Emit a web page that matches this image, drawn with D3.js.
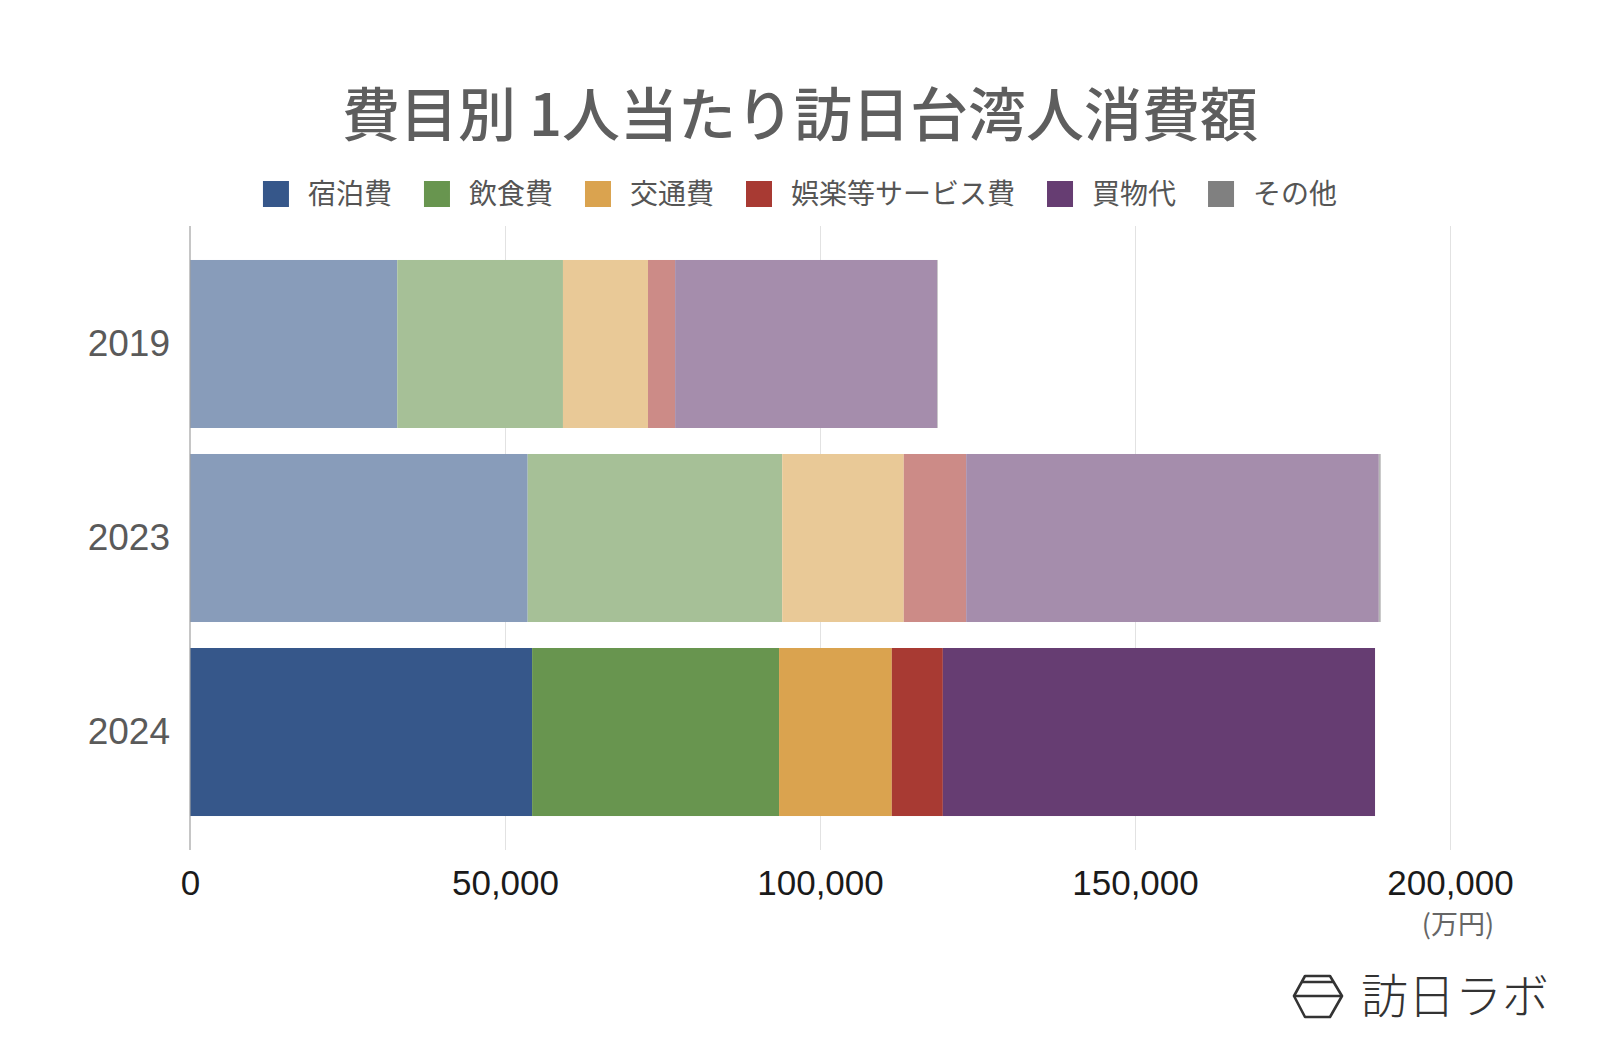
<!DOCTYPE html>
<html>
<head>
<meta charset="utf-8">
<script src="https://cdn.jsdelivr.net/npm/d3@7"></script>
<style>
  html, body { margin: 0; padding: 0; background: #fff; }
  #chart { width: 1600px; height: 1048px; }
</style>
</head>
<body>
<div id="chart"></div>
<script>
const width = 1600;
const height = 1048;

const years = ["2019", "2023", "2024"];
const categories = ["宿泊費", "飲食費", "交通費", "娯楽等サービス費", "買物代", "その他"];

// 1人当たり支出 (円) per year
const lodging = [32900, 53600, 54300];
const food = [26300, 40400, 39200];
const transport = [13500, 19300, 17900];
const entertainment = [4300, 9900, 8100];
const shopping = [41600, 65500, 68600];
const other = [100, 300, 0];

const xTicks = [0, 50000, 100000, 150000, 200000];

const categoryColors = ["#36578a", "#68954f", "#daa34f", "#a83a33", "#663d72", "#808080"];
const highlightYear = "2024";
const FADE = 0.59;

const LABEL_FONT = "'Liberation Sans', Arial, sans-serif";
const JP_FONT = "'Noto Sans CJK JP', 'Noto Sans', sans-serif";

const plotTop = 226;
const plotBottom = 850;

const seriesValues = [lodging, food, transport, entertainment, shopping, other];
const rows = years.map((year, i) => {
  const row = { year };
  categories.forEach((c, j) => { row[c] = seriesValues[j][i]; });
  return row;
});

const stacked = d3.stack().keys(categories)(rows);

const svg = d3
  .select("#chart")
  .append("svg")
  .attr("width", width)
  .attr("height", height)
  .attr("viewBox", `0 0 ${width} ${height}`);

const x = d3.scaleLinear().domain([0, 200000]).range([190, 1450]);

const y = d3
  .scaleBand()
  .domain(years)
  .range([plotTop + 1, plotBottom - 1])
  .paddingInner(0.134)
  .paddingOuter(0.17);

const color = d3.scaleOrdinal().domain(categories).range(categoryColors);

// faded colours are solid (gridlines must not show through)
function barColor(key, year) {
  return year === highlightYear ? color(key) : d3.interpolateRgb("#ffffff", color(key))(FADE);
}

// title
svg.append("text")
  .attr("x", width / 2)
  .attr("y", 136)
  .attr("text-anchor", "middle")
  .attr("font-family", JP_FONT)
  .attr("font-size", 58)
  .attr("font-weight", 500)
  .attr("fill", "#5e5e5e")
  .text("費目別 1人当たり訪日台湾人消費額");

// legend
const legendItems = svg.append("g")
  .selectAll("g")
  .data(categories)
  .join("g");

legendItems.append("rect")
  .attr("width", 26)
  .attr("height", 26)
  .attr("y", 181)
  .attr("fill", d => color(d));

legendItems.append("text")
  .attr("x", 45)
  .attr("y", 204)
  .attr("font-family", JP_FONT)
  .attr("font-size", 28)
  .attr("fill", "#555")
  .text(d => d);

let cursor = 0;
const offsets = [];
legendItems.each(function() {
  const w = 45 + d3.select(this).select("text").node().getComputedTextLength();
  offsets.push(cursor);
  cursor += w + 32;
});
const legendWidth = cursor - 32;
legendItems.attr("transform", (d, i) => `translate(${width / 2 - legendWidth / 2 + offsets[i]},0)`);

// gridlines
svg.append("g")
  .attr("transform", `translate(0,${plotBottom})`)
  .call(d3.axisBottom(x).tickValues(xTicks.slice(1)).tickSize(-(plotBottom - plotTop)).tickFormat(""))
  .call(g => g.select(".domain").remove())
  .call(g => g.selectAll(".tick line").attr("stroke", "#e2e2e2").attr("stroke-width", 1));

// bars
svg.append("g")
  .selectAll("g")
  .data(stacked)
  .join("g")
  .selectAll("rect")
  .data(d => d.map(v => Object.assign(v, { key: d.key })))
  .join("rect")
  .attr("x", d => x(d[0]))
  .attr("y", d => y(d.data.year))
  .attr("width", d => Math.max(0, x(d[1]) - x(d[0])))
  .attr("height", y.bandwidth())
  .attr("fill", d => barColor(d.key, d.data.year));

// y axis line
svg.append("line")
  .attr("x1", x(0))
  .attr("x2", x(0))
  .attr("y1", plotTop)
  .attr("y2", plotBottom)
  .attr("stroke", "#a0a0a0")
  .attr("stroke-width", 1.2);

// year labels
svg.append("g")
  .attr("transform", `translate(${x(0)},0)`)
  .call(d3.axisLeft(y).tickSize(0).tickPadding(20))
  .call(g => g.select(".domain").remove())
  .call(g => g.selectAll("text")
    .attr("font-family", LABEL_FONT)
    .attr("font-size", 37)
    .attr("fill", "#5a5a5a"));

// x tick labels
svg.append("g")
  .attr("transform", `translate(0,${plotBottom})`)
  .call(d3.axisBottom(x).tickValues(xTicks).tickSize(0).tickPadding(20).tickFormat(d3.format(",")))
  .call(g => g.select(".domain").remove())
  .call(g => g.selectAll("text")
    .attr("font-family", LABEL_FONT)
    .attr("font-size", 35)
    .attr("fill", "#1a1a1a"));

// unit
svg.append("text")
  .attr("x", 1458)
  .attr("y", 934)
  .attr("text-anchor", "middle")
  .attr("font-family", JP_FONT)
  .attr("font-size", 27)
  .attr("fill", "#666")
  .text("(万円)");

// logo
const logo = svg.append("g")
  .attr("fill", "none")
  .attr("stroke", "#333")
  .attr("stroke-width", 2.6)
  .attr("stroke-linejoin", "round");

logo.append("path")
  .attr("d", "M1305,976 L1330,976 L1342,996 L1330,1017 L1305,1017 L1294,996 Z");
logo.append("path")
  .attr("d", "M1302,982 L1333,982 M1294,996 L1342,996");

svg.append("text")
  .attr("x", 1361)
  .attr("y", 1013)
  .attr("font-family", JP_FONT)
  .attr("font-size", 47)
  .attr("font-weight", 300)
  .attr("fill", "#333")
  .text("訪日ラボ");
</script>
</body>
</html>
